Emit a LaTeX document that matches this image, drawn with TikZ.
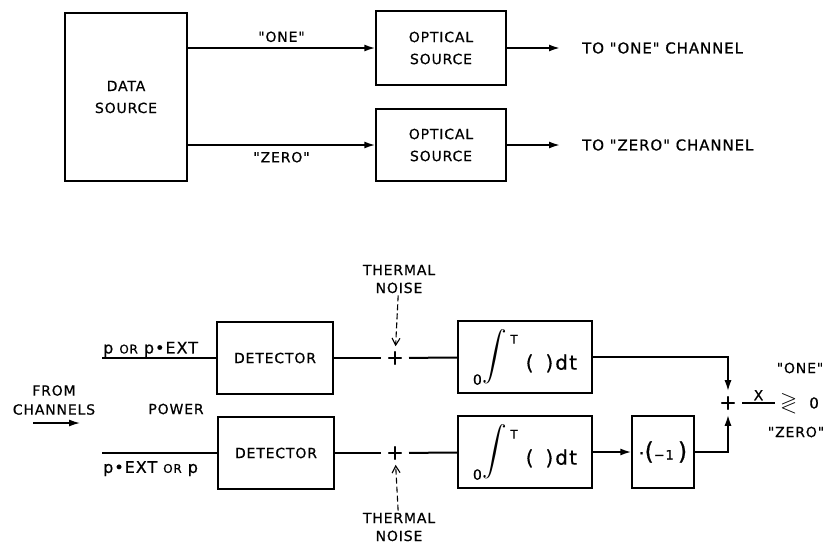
\documentclass[tikz,border=0pt]{standalone}
\usepackage{amssymb}
\usepackage{graphicx}
\usepackage{fontspec}
\setmainfont{DejaVu Sans}[LetterSpace=6, FakeBold=0.6, Ligatures=TeXOff]
\usepackage{tikz}
\usetikzlibrary{arrows.meta}
\usetikzlibrary{positioning}
\tikzset{
  caixa/.style 2 args={draw, line width=1.3pt, minimum width=#1, minimum height=#2, align=center, inner sep=2pt, font=\fontsize{14}{22}\selectfont},
  seta/.style={-{Latex[length=11pt,width=7pt]}, line width=1.8pt},
  linha/.style={line width=2pt},
  rotulo/.style={align=center, inner sep=2pt, font=\fontsize{14}{19}\selectfont},
  soma/.style={inner sep=5pt, font=\fontsize{21}{21}\selectfont},
  ruido/.style={-{Straight Barb[length=7pt,width=8pt]}, dash pattern=on 6pt off 3pt, line width=1.1pt},
}
\newcommand{\aspas}{\symbol{34}}
\newcommand{\intdt}{\raisebox{-15pt}{\fontsize{14}{14}\selectfont 0}\kern1pt\raisebox{7pt}{\scalebox{1.75}{$\displaystyle\int$}}\hspace{3pt}\raisebox{26pt}{\fontsize{12}{12}\selectfont T}\hspace{8pt}{\fontsize{20}{20}\selectfont(\hspace{12pt})\hspace{2pt}dt}}
\newcommand{\menosum}{{\fontsize{18}{18}\selectfont ·}{\fontsize{24}{24}\selectfont(}{\fontsize{13}{13}\selectfont −1\hspace{4pt}}{\fontsize{24}{24}\selectfont)}}

\begin{document}
\begin{tikzpicture}[x=1pt, y=-1pt]
  \useasboundingbox (0,0) rectangle (832,546);
  % transmissor
  \node[caixa={122pt}{168pt}] (dados) at (126,97) {DATA\\SOURCE};
  \node[caixa={130pt}{74pt}] (opt1) at (441,48) {OPTICAL\\SOURCE};
  \node[caixa={130pt}{72pt}] (opt2) at (441,145) {OPTICAL\\SOURCE};
  \node[rotulo, anchor=west, font=\fontsize{15}{19}\selectfont] (canal1) at (580,48) {TO \aspas ONE\aspas\ CHANNEL};
  \node[rotulo, anchor=west, font=\fontsize{15}{19}\selectfont] (canal2) at (580,145) {TO \aspas ZERO\aspas\ CHANNEL};
  \draw[seta] (dados.east |- opt1) -- node[rotulo, above=3pt] {\aspas ONE\aspas} (opt1);
  \draw[seta] (dados.east |- opt2) -- node[rotulo, below=4pt] {\aspas ZERO\aspas} (opt2);
  \draw[seta, shorten >=20pt] (opt1) -- (canal1);
  \draw[seta, shorten >=20pt] (opt2) -- (canal2);

  % receptor
  \node[caixa={116pt}{72pt}] (det1) at (275,358) {DETECTOR};
  \node[caixa={116pt}{72pt}] (det2) at (276,453) {DETECTOR};
  \node[soma] (mais1) at (395,358) {+};
  \node[soma] (mais2) at (395,453) {+};
  \node[caixa={134pt}{72pt}] (int1) at (525,357) {\intdt};
  \node[caixa={134pt}{72pt}] (int2) at (525,452) {\intdt};
  \node[caixa={62pt}{72pt}] (neg) at (663,452) {\menosum};
  \node[soma] (total) at (728,403) {+};
  \node[rotulo, anchor=west, inner sep=5pt] (decisao) at (775,403) {\fontsize{22}{22}\selectfont$\gtrless$\hspace{12pt}{\fontsize{15}{15}\selectfont 0}};
  \node[rotulo] (um) at (800,368) {\aspas ONE\aspas};
  \node[rotulo] (zero) at (796,432) {\aspas ZERO\aspas};
  \node[rotulo, font=\fontsize{14}{18}\selectfont] (ruido1) at (399,279) {THERMAL\\NOISE};
  \node[rotulo, font=\fontsize{14}{18}\selectfont] (ruido2) at (399,527) {THERMAL\\NOISE};
  \node[rotulo] (origem) at (54,400) {FROM\\CHANNELS};
  \node[rotulo] (potencia) at (176,409) {POWER};
  \coordinate (ent1) at (102,358);
  \coordinate (ent2) at (102,453);
  \coordinate (fc1) at (33,423);
  \coordinate (fc2) at (80,423);
  \node[rotulo, anchor=south west, inner sep=1pt, font=\fontsize{16}{16}\selectfont] (p1) at (ent1) {p {\fontsize{12}{12}\selectfont OR} p•EXT};
  \node[rotulo, anchor=north west, inner sep=1pt, yshift=-7pt, font=\fontsize{16}{16}\selectfont] (p2) at (ent2) {p•EXT {\fontsize{12}{12}\selectfont OR} p};

  \draw[seta, line width=1.4pt] (fc1) -- (fc2);
  \draw[linha] (ent1) -- (det1);
  \draw[linha] (ent2) -- (det2);
  \draw[linha] (det1) -- (mais1);
  \draw[linha] (det2) -- (mais2);
  \draw[linha] (mais1) -- (int1);
  \draw[linha] (mais2) -- (int2);
  \draw[ruido] (ruido1) -- (mais1);
  \draw[ruido] (ruido2) -- (mais2);
  \draw[seta] (int1.east) -| (total);
  \draw[seta] (int2) -- (neg);
  \draw[seta] (neg.east) -| (total);
  \draw[linha, line width=1.5pt] (total) -- node[rotulo, above=0pt] {X} (total -| decisao.west);
\end{tikzpicture}
\end{document}
